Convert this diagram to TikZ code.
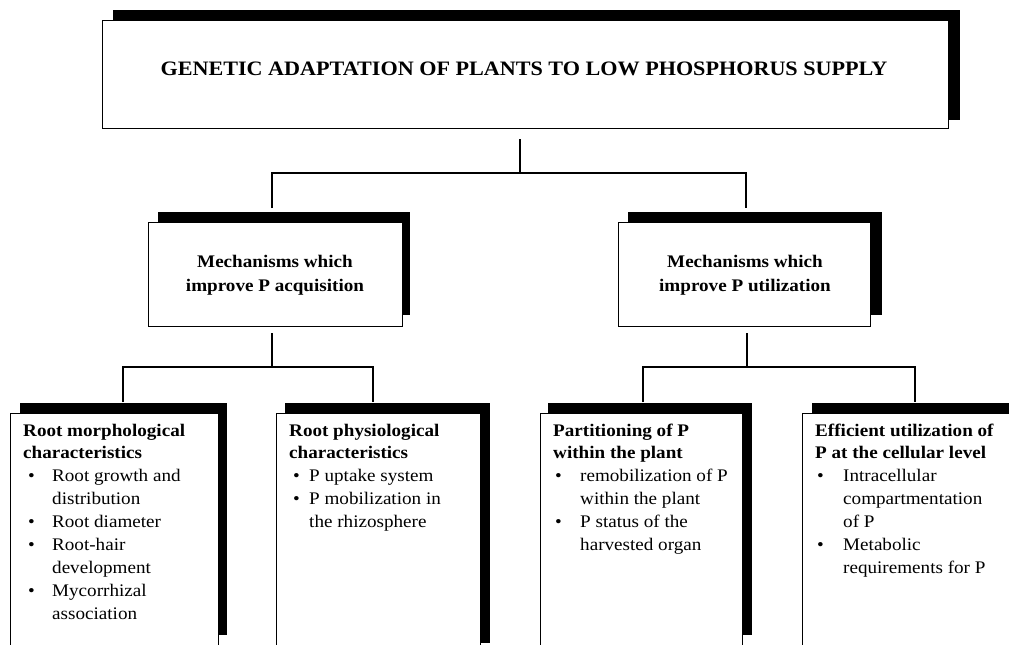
\documentclass[tikz,border=0pt]{standalone}
\usepackage{fontspec}
\setmainfont{Liberation Serif}[FakeStretch=1.08]
\newlength\bulx
\newlength\txtx
\newcommand\bitem[1]{\par\hangindent=\txtx\hangafter=1\noindent\hbox to\txtx{\hskip\bulx\textbullet\hfil}#1}
\newcommand\listtext[4]{\parbox[t]{300pt}{\fontsize{17.7}{22.9}\selectfont\setlength\bulx{#1}\setlength\txtx{#2}\noindent\textbf{#3}#4}}
\begin{document}
\begin{tikzpicture}[x=1pt,y=-1pt,
  shade/.style={fill=black},
  box/.style={draw=black, line width=1.2pt, fill=white, inner sep=0pt, anchor=north west},
  conn/.style={line width=2.8pt, line join=miter},
  ttl/.style={font=\fontsize{20.5}{24}\selectfont\bfseries, inner sep=0pt, anchor=base},
  midtext/.style={inner sep=0pt, anchor=base},
  list/.style={anchor=base west, inner sep=0pt}]
\useasboundingbox (0,0) rectangle (1009,645);
\clip (0,0) rectangle (1009,645);
\fill[white] (0,0) rectangle (1009,645);

% top box
\fill[shade] (113,10) rectangle (960,120);
\node[box, minimum width=846pt, minimum height=108pt] (top) at (102,20) {};
\node[ttl] (title) at (524,75) {GENETIC ADAPTATION OF PLANTS TO LOW PHOSPHORUS SUPPLY};

% middle boxes
\fill[shade] (158,212) rectangle (410,315);
\node[box, minimum width=254pt, minimum height=104pt] (acq) at (148,222) {};
\node[midtext] (acqt) at (275,267) {\parbox[t]{250pt}{\centering\fontsize{17.7}{24}\selectfont\bfseries Mechanisms which\\improve P acquisition}};

\fill[shade] (628,212) rectangle (882,315);
\node[box, minimum width=252pt, minimum height=104pt] (util) at (618,222) {};
\node[midtext] (utilt) at (745,267) {\parbox[t]{250pt}{\centering\fontsize{17.7}{24}\selectfont\bfseries Mechanisms which\\improve P utilization}};

% bottom boxes
\fill[shade] (20,403) rectangle (227,635);
\node[box, minimum width=208pt, minimum height=260pt] (b1) at (10,413) {};
\fill[shade] (285,403) rectangle (490,643);
\node[box, minimum width=204pt, minimum height=260pt] (b2) at (276,413) {};
\fill[shade] (548,403) rectangle (752,635);
\node[box, minimum width=202pt, minimum height=260pt] (b3) at (540,413) {};
\fill[shade] (812,403) rectangle (1020,640);
\node[box, minimum width=210pt, minimum height=260pt] (b4) at (802,413) {};

\node[list] (t1) at (23,436) {\listtext{5pt}{29pt}{Root morphological\\characteristics}{%
  \bitem{Root growth and\\distribution}\bitem{Root diameter}\bitem{Root-hair\\development}\bitem{Mycorrhizal\\association}}};
\node[list] (t2) at (289,436) {\listtext{4pt}{20pt}{Root physiological\\characteristics}{%
  \bitem{P uptake system}\bitem{P mobilization in\\the rhizosphere}}};
\node[list] (t3) at (553,436) {\listtext{2pt}{27pt}{Partitioning of P\\within the plant}{%
  \bitem{remobilization of P\\within the plant}\bitem{P status of the\\harvested organ}}};
\node[list] (t4) at (815,436) {\listtext{2pt}{28pt}{Efficient utilization of\\P at the cellular level}{%
  \bitem{Intracellular\\compartmentation\\of P}\bitem{Metabolic\\requirements for P}}};

% connectors
\coordinate (j0) at (520,173);
\coordinate (hl) at (272,173);
\coordinate (hr) at (746,173);
\draw[conn] ([yshift=-10pt]top.south -| j0) -- (j0);
\draw[conn] ([yshift=14pt]acq.north -| hl) -- (hl) -- (hr) -- ([yshift=14pt]util.north -| hr);

\coordinate (ja) at (272,367);
\coordinate (la) at (123,367);
\coordinate (ra) at (373,367);
\draw[conn] ([yshift=-6pt]acq.south -| ja) -- (ja);
\draw[conn] ([yshift=11pt]b1.north -| la) -- (la) -- (ra) -- ([yshift=11pt]b2.north -| ra);

\coordinate (jb) at (747,367);
\coordinate (lb) at (643,367);
\coordinate (rb) at (915,367);
\draw[conn] ([yshift=-6pt]util.south -| jb) -- (jb);
\draw[conn] ([yshift=11pt]b3.north -| lb) -- (lb) -- (rb) -- ([yshift=11pt]b4.north -| rb);
\end{tikzpicture}
\end{document}
